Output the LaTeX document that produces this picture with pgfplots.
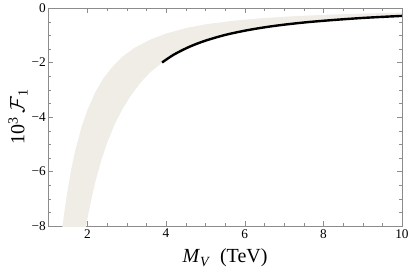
\documentclass[border=0pt]{standalone}
\usepackage{fontspec}
\setmainfont{Liberation Serif}
\usepackage{pgfplots}
\pgfplotsset{compat=1.18}
\definecolor{bandc}{RGB}{240,236,230}
\definecolor{framec}{RGB}{140,140,140}
\begin{document}
\begin{tikzpicture}
\path[use as bounding box] (-48pt,-47pt) rectangle (361pt,226pt);
\begin{axis}[
  scale only axis, width=354pt, height=218pt,
  xmin=1, xmax=10, ymin=-8, ymax=0,
  xtick={2,4,6,8,10}, xticklabels={2,4,6,8,10},
  ytick={-8,-6,-4,-2,0}, yticklabels={−8,−6,−4,−2,0},
  minor x tick num=3, minor y tick num=3,
  major tick length=5pt, minor tick length=3pt,
  axis line style={framec}, tick style={framec},
  tick label style={font=\fontsize{13.3}{14}\selectfont},
  xticklabel style={inner sep=1pt, yshift=-2pt},
  yticklabel style={inner sep=1pt, xshift=-1pt},
  xlabel={\textit{M}\raisebox{-0.35ex}{\fontsize{14}{14}\selectfont\textit{V}}\ \ (TeV)},
  ylabel={10\raisebox{0.75ex}{\fontsize{14}{14}\selectfont 3}\,$\mathcal{F}$\raisebox{-0.35ex}{\fontsize{14}{14}\selectfont 1}},
  label style={font=\fontsize{20}{22}\selectfont},
  xlabel style={at={(axis description cs:0.5,0)}, anchor=center, yshift=-32pt},
  ylabel style={at={(axis description cs:-0.0847,0.5)}, anchor=center},
]
\addplot[fill=bandc, draw=none] coordinates {
(1.33,-8.5)(1.37,-7.99)(1.42,-7.44)(1.5,-6.67)(1.6,-5.86)(1.7,-5.19)(1.85,-4.38)(2.0,-3.75)(2.2,-3.10)(2.4,-2.60)(2.65,-2.14)(2.9,-1.78)(3.2,-1.46)(3.6,-1.16)(4.0,-0.94)(4.5,-0.74)(5.0,-0.60)(5.7,-0.47)(6.5,-0.367)(7.3,-0.296)(8.2,-0.241)(9.1,-0.200)(10,-0.17)
(10,-0.29)(9.6,-0.318)(9.0,-0.365)(8.3,-0.435)(7.6,-0.519)(7.0,-0.612)(6.5,-0.71)(6.0,-0.833)(5.5,-0.99)(5.0,-1.20)(4.6,-1.42)(4.2,-1.71)(3.9,-2.00)(3.6,-2.36)(3.35,-2.74)(3.1,-3.23)(2.9,-3.69)(2.7,-4.25)(2.5,-4.96)(2.35,-5.61)(2.2,-6.40)(2.1,-7.03)(2.02,-7.60)(1.97,-7.99)(1.94,-8.5)
} -- cycle;
\addplot[black, line width=2.4pt, smooth] coordinates {
(3.9,-2.00)(4.2,-1.71)(4.6,-1.42)(5.0,-1.20)(5.5,-0.99)(6.0,-0.833)(6.5,-0.71)(7.0,-0.612)(7.6,-0.519)(8.3,-0.435)(9.0,-0.365)(9.6,-0.318)(10,-0.29)
};
\end{axis}
\end{tikzpicture}
\end{document}
